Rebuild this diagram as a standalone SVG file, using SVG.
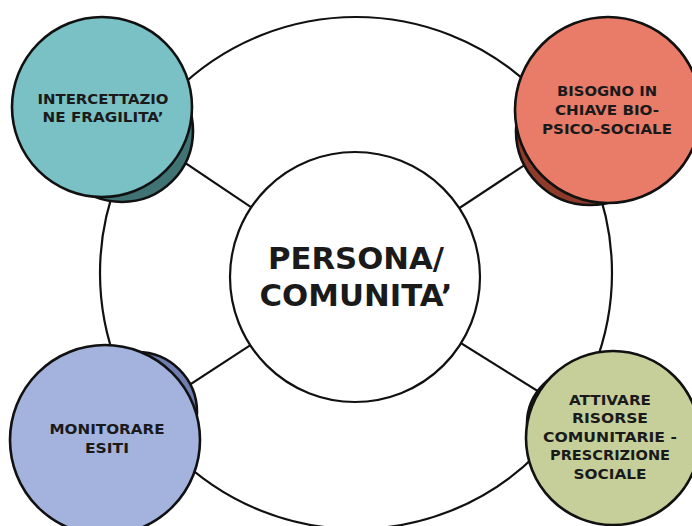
<svg xmlns="http://www.w3.org/2000/svg" width="692" height="526" viewBox="0 0 692 526">
  <style>
    .ring { fill: none; stroke: #111; stroke-width: 2.2; }
    .spoke { stroke: #111; stroke-width: 2.2; }
    .disc { stroke: #111; stroke-width: 2.6; }
    .label { font-family: "DejaVu Sans", "Liberation Sans", sans-serif; font-weight: bold; fill: #1a1a1a; text-anchor: middle; }
    .small { font-size: 14.4px; }
    .big { font-size: 30px; }
  </style>
  <rect width="692" height="526" fill="#ffffff"/>

  <!-- outer ring -->
  <circle class="ring" cx="356" cy="273" r="256"/>

  <!-- connectors -->
  <g id="connectors">
    <line class="spoke" x1="102" y1="107" x2="355" y2="277"/>
    <line class="spoke" x1="608" y1="110" x2="355" y2="277"/>
    <line class="spoke" x1="105" y1="440" x2="355" y2="277"/>
    <line class="spoke" x1="613" y1="438" x2="355" y2="277"/>
  </g>

  <!-- centre -->
  <g id="persona">
    <circle cx="355" cy="277" r="125" fill="#ffffff" stroke="#111" stroke-width="2.2"/>
    <text class="label big" x="356" y="269" textLength="176" lengthAdjust="spacingAndGlyphs">PERSONA/</text>
    <text class="label big" x="356" y="306" textLength="193" lengthAdjust="spacingAndGlyphs">COMUNITA’</text>
  </g>

  <!-- top left -->
  <g id="intercettazione">
    <circle class="disc" cx="122" cy="131" r="71" fill="#3f7374"/>
    <circle class="disc" cx="102" cy="107" r="90" fill="#79c1c5"/>
    <text class="label small" x="103" y="104" textLength="131" lengthAdjust="spacingAndGlyphs">INTERCETTAZIO</text>
    <text class="label small" x="103" y="122" textLength="121" lengthAdjust="spacingAndGlyphs">NE FRAGILITA’</text>
  </g>

  <!-- top right -->
  <g id="bisogno">
    <circle class="disc" cx="590" cy="131" r="74" fill="#8f3b2b"/>
    <circle class="disc" cx="608" cy="110" r="93" fill="#e97c68"/>
    <text class="label small" x="607" y="96" textLength="100" lengthAdjust="spacingAndGlyphs">BISOGNO IN</text>
    <text class="label small" x="607" y="115" textLength="104" lengthAdjust="spacingAndGlyphs">CHIAVE BIO-</text>
    <text class="label small" x="607" y="134" textLength="130" lengthAdjust="spacingAndGlyphs">PSICO-SOCIALE</text>
  </g>

  <!-- bottom left -->
  <g id="monitorare">
    <circle class="disc" cx="137" cy="412" r="60" fill="#6f7db0"/>
    <circle class="disc" cx="105" cy="440" r="95" fill="#a4b2de"/>
    <text class="label small" x="107" y="434" textLength="115" lengthAdjust="spacingAndGlyphs">MONITORARE</text>
    <text class="label small" x="107" y="453" textLength="44" lengthAdjust="spacingAndGlyphs">ESITI</text>
  </g>

  <!-- bottom right -->
  <g id="attivare">
    <circle class="disc" cx="583" cy="424" r="56" fill="#7f8656"/>
    <circle class="disc" cx="613" cy="438" r="87" fill="#c6cf9a"/>
    <text class="label small" x="610" y="405" textLength="82" lengthAdjust="spacingAndGlyphs">ATTIVARE</text>
    <text class="label small" x="610" y="423" textLength="76" lengthAdjust="spacingAndGlyphs">RISORSE</text>
    <text class="label small" x="610" y="442" textLength="134" lengthAdjust="spacingAndGlyphs">COMUNITARIE -</text>
    <text class="label small" x="610" y="460" textLength="120" lengthAdjust="spacingAndGlyphs">PRESCRIZIONE</text>
    <text class="label small" x="610" y="479" textLength="73" lengthAdjust="spacingAndGlyphs">SOCIALE</text>
  </g>
</svg>
